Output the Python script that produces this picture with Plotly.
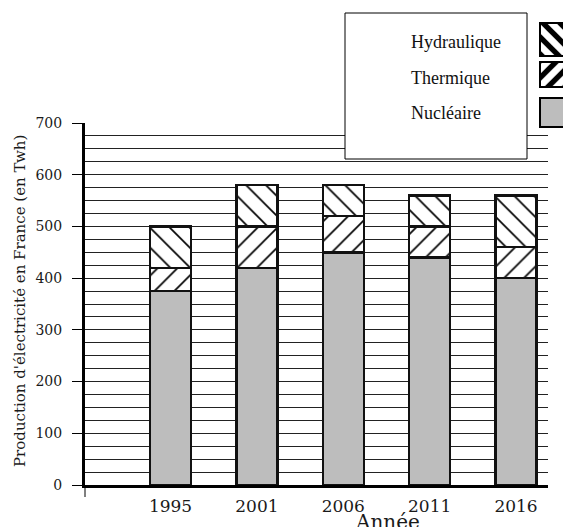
import plotly.graph_objects as go

# ---- data ----
annees = ["1995", "2001", "2006", "2011", "2016"]
nucleaire = [375, 420, 450, 440, 400]
thermique = [45, 80, 70, 60, 60]
hydraulique = [80, 80, 60, 60, 100]
y_ticks = [0, 100, 200, 300, 400, 500, 600, 700]
legende = ["Hydraulique", "Thermique", "Nucléaire"]

W, H = 571, 527
OFF = 8  # page body margin
def px(p):
    return (p - OFF) / W
def py(p):
    return 1 - (p - OFF) / H

SERIF = "DejaVu Serif"
OUT = dict(color="#111111", width=2.5)
BW = 0.475

def hatch(shape, size, solidity):
    return dict(shape=shape, fgcolor="black", bgcolor="white", fgopacity=1,
                size=size, solidity=solidity, fillmode="overlay")

fig = go.Figure()
fig.add_trace(go.Bar(x=annees, y=nucleaire, width=BW, name="Nucléaire",
                     marker=dict(color="#bdbdbd", line=OUT), showlegend=False))
fig.add_trace(go.Bar(x=annees, y=thermique, width=BW, name="Thermique",
                     marker=dict(color="white", line=OUT, pattern=hatch("/", 14, 0.12)),
                     showlegend=False))
fig.add_trace(go.Bar(x=annees, y=hydraulique, width=BW, name="Hydraulique",
                     marker=dict(color="white", line=OUT, pattern=hatch("\\", 14, 0.12)),
                     showlegend=False))

# legend swatches on an auxiliary axis
sw_y = [95.5, 60.5, 22.5]
sw_w = [33, 25, 29]
sw_style = [
    dict(color="white", pattern=hatch("\\", 12, 0.45)),
    dict(color="white", pattern=hatch("/", 12, 0.45)),
    dict(color="#bdbdbd"),
]
for name, yy, ww, st in zip(legende, sw_y, sw_w, sw_style):
    fig.add_trace(go.Bar(y=[yy], x=[100], width=[ww], orientation="h", name=name,
                         marker=dict(line=dict(color="black", width=2), **st),
                         xaxis="x2", yaxis="y2", showlegend=False, hoverinfo="skip"))

fig.update_layout(
    width=W, height=H, barmode="stack",
    margin=dict(l=0, r=0, t=0, b=0),
    plot_bgcolor="white", paper_bgcolor="white",
    showlegend=False,
    xaxis=dict(domain=[px(85), px(548)], type="category", range=[-0.99, 4.37],
               showline=True, linewidth=3, linecolor="black", ticks="",
               ticklabelstandoff=4,
               tickfont=dict(family=SERIF, size=17, color="#1a1a1a"),
               showgrid=False, automargin=False, fixedrange=True),
    yaxis=dict(domain=[py(485), py(123)], range=[0, 700], tickvals=y_ticks,
               showline=True, linewidth=3, linecolor="black",
               ticks="outside", ticklen=10, tickwidth=1, tickcolor="black",
               ticklabelstandoff=7,
               tickfont=dict(family=SERIF, size=14, color="#1a1a1a"),
               showgrid=True, gridcolor="#222222", gridwidth=1, zeroline=False,
               minor=dict(dtick=25, showgrid=True, gridcolor="#222222", gridwidth=1, ticks=""),
               automargin=False, fixedrange=True),
    xaxis2=dict(domain=[px(535), 1], range=[-4, 32], visible=False, anchor="y2"),
    yaxis2=dict(domain=[py(135), py(15)], range=[0, 120], visible=False, anchor="x2"),
    shapes=[
        dict(type="rect", xref="paper", yref="paper", x0=px(345), x1=px(527), y0=py(159), y1=py(13),
             line=dict(color="black", width=1), fillcolor="white", layer="above"),
        dict(type="line", xref="paper", yref="paper", x0=px(85), x1=px(85), y0=py(488), y1=py(497),
             line=dict(color="black", width=1)),
    ],
    annotations=[
        dict(text="Production d'électricité en France (en Twh)", textangle=-90,
             xref="paper", yref="paper", x=px(20), y=py(301), xanchor="center", yanchor="middle",
             showarrow=False, font=dict(family=SERIF, size=15, color="#1a1a1a")),
        dict(text="Année", xref="paper", yref="paper", x=px(387), y=py(508),
             xanchor="center", yanchor="top",
             showarrow=False, font=dict(family=SERIF, size=20, color="#1a1a1a")),
    ] + [
        dict(text=t, xref="paper", yref="paper", x=px(409), y=py(yc), xanchor="left",
             yanchor="middle", showarrow=False,
             font=dict(family="Liberation Serif", size=18, color="#111111"))
        for t, yc in zip(legende, [42, 78, 113])
    ],
)

fig.write_html("out.html")
